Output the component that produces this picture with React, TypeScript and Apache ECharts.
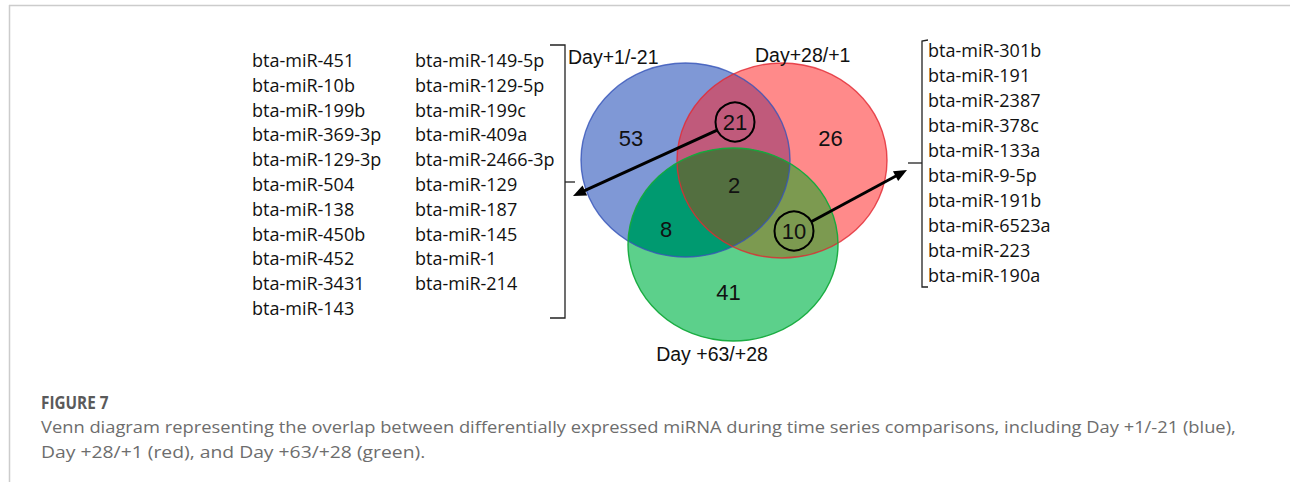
import React, { useEffect, useRef } from "react";
import * as echarts from "echarts";

// ---------- data ----------
const setNames = ["Day+1/-21", "Day+28/+1", "Day +63/+28"];
// regions: only A, only B, only C, A∩B, A∩C, B∩C, A∩B∩C
const regionKeys = ["0", "1", "2", "01", "02", "12", "012"];
const regionCounts = [53, 26, 41, 21, 8, 10, 2];
const leftGenesCol1 = [
  "bta-miR-451", "bta-miR-10b", "bta-miR-199b", "bta-miR-369-3p", "bta-miR-129-3p",
  "bta-miR-504", "bta-miR-138", "bta-miR-450b", "bta-miR-452", "bta-miR-3431", "bta-miR-143",
];
const leftGenesCol2 = [
  "bta-miR-149-5p", "bta-miR-129-5p", "bta-miR-199c", "bta-miR-409a", "bta-miR-2466-3p",
  "bta-miR-129", "bta-miR-187", "bta-miR-145", "bta-miR-1", "bta-miR-214",
];
const rightGenes = [
  "bta-miR-301b", "bta-miR-191", "bta-miR-2387", "bta-miR-378c", "bta-miR-133a",
  "bta-miR-9-5p", "bta-miR-191b", "bta-miR-6523a", "bta-miR-223", "bta-miR-190a",
];
const captionTitle = "FIGURE 7";
const captionLines = [
  "Venn diagram representing the overlap between differentially expressed miRNA during time series comparisons, including Day +1/-21 (blue),",
  "Day +28/+1 (red), and Day +63/+28 (green).",
];

// ---------- layout & style ----------
const ELLIPSES = [
  { cx: 685.5, cy: 160, rx: 104.5, ry: 97 },
  { cx: 782, cy: 160.5, rx: 105, ry: 97.5 },
  { cx: 733, cy: 244.5, rx: 105, ry: 96.5 },
];
const SET_LABEL_POS = [
  { x: 568, y: 57, align: "left" },
  { x: 755, y: 55, align: "left" },
  { x: 712, y: 354, align: "center" },
];
const REGION_POS: Record<string, [number, number]> = {
  "0": [631, 138], "1": [830.5, 138], "2": [728.5, 292.5],
  "01": [735, 122], "02": [666, 229.5], "12": [794, 231], "012": [734, 185],
};
const REGION_COLORS: Record<string, string> = {
  "0": "#7F98D6", "1": "#FF8A8A", "2": "#5CD08B",
  "01": "#C05A7B", "02": "#009A70", "12": "#7C9A50", "012": "#536F40",
};
const STROKE_COLORS = ["rgba(55,85,185,0.8)", "rgba(225,40,50,0.8)", "rgba(20,170,60,0.95)"];
const CIRCLED = ["01", "12"];
const ARROW_TIPS: Record<string, [number, number]> = { "01": [573, 196], "12": [907, 170] };
const GENE_FONT = "18px 'Open Sans', sans-serif";
const NUM_FONT = "22px 'Liberation Sans', Arial, sans-serif";
const LABEL_FONT = "19.5px 'Liberation Sans', Arial, sans-serif";
const CAPTION_SCALE = [1.078, 1.137];

type E = { cx: number; cy: number; rx: number; ry: number };

function inside(e: E, x: number, y: number) {
  const dx = (x - e.cx) / e.rx;
  const dy = (y - e.cy) / e.ry;
  return dx * dx + dy * dy <= 1 + 1e-6;
}
function boundary(e: E, n = 1440) {
  const pts: number[][] = [];
  for (let i = 0; i < n; i++) {
    const t = (i / n) * Math.PI * 2;
    pts.push([e.cx + e.rx * Math.cos(t), e.cy + e.ry * Math.sin(t)]);
  }
  return pts;
}
function intersection(idx: number[]) {
  const pts: number[][] = [];
  idx.forEach((i) => {
    boundary(ELLIPSES[i]).forEach((p) => {
      if (idx.every((j) => j === i || inside(ELLIPSES[j], p[0], p[1]))) pts.push(p);
    });
  });
  let mx = 0, my = 0;
  pts.forEach((p) => { mx += p[0]; my += p[1]; });
  mx /= pts.length; my /= pts.length;
  pts.sort((a, b) => Math.atan2(a[1] - my, a[0] - mx) - Math.atan2(b[1] - my, b[0] - mx));
  return pts;
}

function text(x: number, y: number, s: string, font: string, fill: string, align = "left", scaleX = 1) {
  return {
    type: "text", x, y, scaleX,
    style: { text: s, font, fill, align, verticalAlign: "middle", textAlign: align, textVerticalAlign: "middle" },
  };
}

function arrow(x1: number, y1: number, x2: number, y2: number) {
  const dx = x2 - x1, dy = y2 - y1, L = Math.hypot(dx, dy);
  const ux = dx / L, uy = dy / L, px = -uy, py = ux;
  const headLen = 13, headW = 5.5;
  const bx = x2 - ux * headLen, by = y2 - uy * headLen;
  return [
    { type: "line", shape: { x1, y1, x2: bx + ux * 2, y2: by + uy * 2 }, style: { stroke: "#000", lineWidth: 3 } },
    {
      type: "polygon",
      shape: { points: [[x2, y2], [bx + px * headW, by + py * headW], [bx - px * headW, by - py * headW]] },
      style: { fill: "#000" },
    },
  ];
}

function buildGraphic() {
  const els: any[] = [];
  // frame
  els.push({ type: "line", shape: { x1: 9, y1: 5.5, x2: 1290, y2: 5.5 }, style: { stroke: "#cccccc", lineWidth: 1.5 } });
  els.push({ type: "line", shape: { x1: 9.5, y1: 5, x2: 9.5, y2: 482 }, style: { stroke: "#cccccc", lineWidth: 1.5 } });

  // venn fills
  ELLIPSES.forEach((e, i) => {
    els.push({ type: "ellipse", shape: { ...e }, style: { fill: REGION_COLORS[String(i)] } });
  });
  ["01", "02", "12", "012"].forEach((k) => {
    const idx = k.split("").map(Number);
    els.push({ type: "polygon", shape: { points: intersection(idx) }, style: { fill: REGION_COLORS[k] } });
  });
  ELLIPSES.forEach((e, i) => {
    els.push({ type: "ellipse", shape: { ...e }, style: { fill: "none", stroke: STROKE_COLORS[i], lineWidth: 1.4 } });
  });

  // set labels
  setNames.forEach((n, i) => {
    const p = SET_LABEL_POS[i];
    els.push(text(p.x, p.y, n, LABEL_FONT, "#111", p.align));
  });

  // region counts
  regionKeys.forEach((k, i) => {
    const [x, y] = REGION_POS[k];
    els.push(text(x, y, String(regionCounts[i]), NUM_FONT, "#111", "center"));
  });

  // circled counts + arrows
  CIRCLED.forEach((k) => {
    const [cx, cy] = REGION_POS[k];
    const r = 19.5;
    els.push({ type: "circle", shape: { cx, cy, r }, style: { fill: "none", stroke: "#000", lineWidth: 2 } });
    const [tx, ty] = ARROW_TIPS[k];
    const L = Math.hypot(tx - cx, ty - cy);
    const sx = cx + ((tx - cx) / L) * r, sy = cy + ((ty - cy) / L) * r;
    els.push(...arrow(sx, sy, tx, ty));
  });

  // brackets
  els.push({ type: "polyline", shape: { points: [[550, 45], [565, 45], [565, 318], [550, 318]] }, style: { stroke: "#222", lineWidth: 1.3, fill: "none" } });
  els.push({ type: "line", shape: { x1: 565, y1: 182, x2: 575, y2: 182 }, style: { stroke: "#222", lineWidth: 1.3 } });
  els.push({ type: "polyline", shape: { points: [[928, 40], [922, 41], [922, 287], [928, 287]] }, style: { stroke: "#222", lineWidth: 1.3, fill: "none" } });
  els.push({ type: "line", shape: { x1: 908, y1: 163, x2: 922, y2: 163 }, style: { stroke: "#222", lineWidth: 1.3 } });

  // gene lists
  leftGenesCol1.forEach((g, i) => els.push(text(252, 60 + i * 24.8, g, GENE_FONT, "#111")));
  leftGenesCol2.forEach((g, i) => els.push(text(415, 60 + i * 24.8, g, GENE_FONT, "#111")));
  rightGenes.forEach((g, i) => els.push(text(928, 49.5 + i * 25, g, GENE_FONT, "#111")));

  // caption
  els.push(text(41, 403, captionTitle, "bold 17px 'Open Sans', sans-serif", "#5a5a5a", "left", 0.9));
  captionLines.forEach((l, i) =>
    els.push(text(41, 426 + i * 25, l, "17px 'Open Sans', sans-serif", "#6d6d6d", "left", CAPTION_SCALE[i]))
  );

  return els;
}

export default function App() {
  const ref = useRef<HTMLDivElement>(null);
  useEffect(() => {
    if (!ref.current) return;
    const chart = echarts.init(ref.current, null, { renderer: "svg" });
    chart.setOption({
      animation: false,
      backgroundColor: "#ffffff",
      graphic: { elements: buildGraphic() },
    });
    return () => chart.dispose();
  }, []);
  return (
    <div
      ref={ref}
      style={{ position: "fixed", left: 0, top: 0, width: 1290, height: 482, background: "#fff" }}
    />
  );
}
